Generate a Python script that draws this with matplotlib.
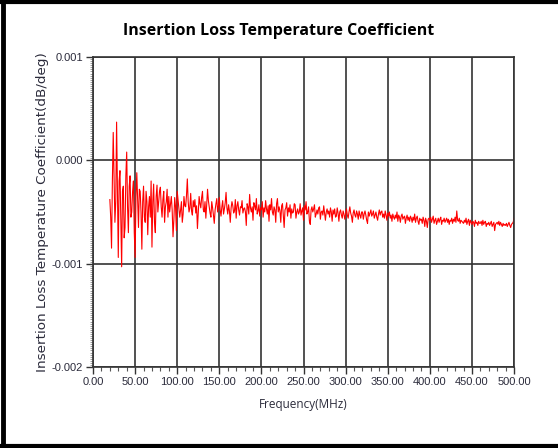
import numpy as np
import matplotlib
matplotlib.use("Agg")
import matplotlib.pyplot as plt
from matplotlib.ticker import MultipleLocator, FormatStrFormatter
from matplotlib.lines import Line2D

# frequency axis (MHz), one sample per MHz
freq_start = 20
freq_stop = 500
freq_step = 1

# coefficient values, in units of 1e-4 dB/deg (10 MHz per row)
coef_e4 = [
    -3.8, -5.5, -8.5, -2.0, 2.7, -1.5, -6.0, -4.0, 3.7, -3.0,
    -9.4, -2.0, -1.0, -5.5, -10.3, -3.0, -2.5, -7.5, -6.5, -1.5,
    0.8, -4.5, -7.0, -2.5, -1.5, -5.5, -5.0, -3.0, -2.0, -7.0,
    -9.4, -3.5, -1.2, -4.0, -6.5, -2.8, -3.0, -5.0, -8.6, -4.0,
    -2.5, -5.5, -6.0, -3.0, -4.0, -7.2, -4.5, -3.5, -5.5, -2.0,
    -8.4, -4.0, -2.3, -6.0, -7.0, -3.5, -2.4, -5.0, -4.0, -3.0,
    -2.6, -4.5, -5.5, -3.8, -3.0, -6.0, -4.5, -4.0, -2.8, -5.5,
    -3.5, -5.0, -4.2, -3.5, -4.8, -7.4, -5.8, -3.6, -4.5, -6.8,
    -3.0, -3.8, -4.5, -5.5, -4.8, -4.0, -6.0, -5.2, -3.5, -4.4,
    -4.5, -3.4, -1.8, -4.0, -5.0, -4.6, -3.2, -4.9, -5.3, -3.9,
    -4.5, -3.8, -5.1, -4.4, -6.6, -5.0, -3.5, -4.2, -4.6, -3.6,
    -3.0, -4.8, -5.0, -4.0, -5.6, -4.3, -2.8, -3.9, -4.5, -5.1,
    -5.5, -4.0, -4.6, -5.3, -6.1, -4.8, -4.2, -3.7, -5.0, -4.4,
    -3.6, -4.8, -5.4, -4.5, -3.9, -5.2, -4.7, -4.1, -3.1, -4.6,
    -5.2, -4.3, -4.9, -6.0, -4.6, -4.0, -4.4, -5.1, -4.9, -3.8,
    -5.6, -4.4, -4.0, -4.8, -5.3, -4.5, -4.6, -3.9, -5.1, -4.7,
    -4.6, -5.0, -6.3, -4.2, -4.5, -5.2, -3.3, -4.6, -5.0, -4.5,
    -5.8, -4.1, -4.4, -4.8, -3.7, -5.2, -4.9, -4.3, -5.4, -4.6,
    -4.8, -4.0, -5.5, -4.6, -5.0, -3.9, -4.7, -5.2, -4.4, -5.9,
    -4.3, -4.8, -3.7, -5.0, -5.3, -4.5, -4.8, -6.0, -4.2, -3.7,
    -5.0, -4.5, -4.9, -6.0, -4.4, -4.2, -5.3, -6.5, -4.8, -4.6,
    -4.1, -5.4, -4.6, -5.0, -4.3, -5.6, -4.7, -5.1, -5.0, -4.2,
    -4.3, -5.6, -5.0, -4.7, -5.2, -5.0, -4.2, -5.3, -4.9, -4.6,
    -5.8, -4.4, -4.8, -4.0, -5.2, -5.0, -4.5, -5.9, -6.2, -4.8,
    -4.5, -5.0, -4.7, -4.3, -5.5, -5.2, -4.8, -5.2, -4.6, -4.5,
    -5.7, -5.0, -4.9, -5.3, -4.4, -5.1, -5.8, -5.0, -4.7, -5.2,
    -4.9, -5.5, -4.6, -5.0, -5.9, -4.8, -5.2, -4.7, -5.5, -5.4,
    -4.6, -5.1, -5.9, -5.0, -4.8, -5.3, -5.6, -4.9, -5.2, -5.7,
    -5.2, -4.7, -5.3, -5.6, -5.0, -4.5, -5.1, -5.4, -6.0, -5.1,
    -4.8, -5.3, -5.5, -4.9, -5.2, -5.7, -4.9, -5.3, -5.6, -5.0,
    -5.0, -5.7, -5.2, -4.9, -5.3, -5.8, -6.1, -5.0, -5.4, -5.1,
    -4.8, -5.4, -5.2, -4.9, -5.6, -5.3, -5.0, -5.5, -5.8, -5.2,
    -4.8, -5.3, -5.0, -4.9, -5.5, -5.2, -5.6, -4.9, -5.3, -5.8,
    -5.1, -5.4, -5.0, -5.6, -5.3, -5.9, -5.2, -5.5, -5.7, -5.3,
    -5.6, -5.0, -5.9, -5.3, -5.5, -6.0, -5.4, -5.2, -5.7, -5.5,
    -5.4, -6.1, -5.6, -5.3, -5.8, -5.5, -5.9, -5.4, -5.6, -6.0,
    -5.5, -5.8, -5.2, -6.0, -5.6, -5.4, -5.9, -6.2, -5.6, -5.8,
    -5.7, -6.1, -5.5, -5.8, -6.4, -5.6, -5.9, -6.5, -5.7, -5.6,
    -5.8, -5.5, -6.0, -5.7, -5.4, -6.1, -5.8, -5.6, -6.2, -5.9,
    -5.6, -6.0, -5.7, -5.5, -6.2, -5.8, -5.9, -5.6, -6.0, -5.8,
    -5.6, -6.0, -5.7, -6.2, -5.8, -5.9, -5.6, -6.1, -5.7, -5.9,
    -5.5, -6.0, -4.9, -5.8, -5.9, -5.6, -6.1, -5.8, -5.9, -6.0,
    -6.1, -5.8, -6.0, -5.6, -6.2, -5.9, -5.7, -6.3, -5.8, -6.0,
    -6.2, -5.9, -6.0, -6.4, -5.8, -6.1, -6.0, -6.3, -5.9, -6.1,
    -6.1, -5.9, -6.3, -5.8, -6.2, -6.0, -5.9, -6.4, -6.1, -6.2,
    -6.0, -6.3, -6.1, -5.9, -6.4, -6.2, -6.0, -6.8, -6.2, -6.1,
    -6.0, -6.2, -5.9, -6.3, -6.0, -6.2, -6.4, -6.1, -6.3, -6.2,
    -6.3, -6.1, -6.4, -6.2, -6.0, -6.3, -6.5, -6.2, -6.1, -6.0,
    -5.6,
]

freq = np.arange(freq_start, freq_stop + freq_step, freq_step)
coef = np.array(coef_e4) * 1e-4

plt.rcParams['axes.unicode_minus'] = False

fig = plt.figure(figsize=(5.58, 4.48), dpi=100)
fig.patch.set_facecolor("white")
ax = fig.add_axes([0.1667, 0.1808, 0.7545, 0.692])

ax.plot(freq, coef, color="red", linewidth=0.8)

ax.set_xlim(0, 500)
ax.set_ylim(-0.002, 0.001)

ax.xaxis.set_major_locator(MultipleLocator(50))
ax.xaxis.set_minor_locator(MultipleLocator(10))
ax.xaxis.set_major_formatter(FormatStrFormatter("%.2f"))
ax.yaxis.set_major_locator(MultipleLocator(0.001))
ax.yaxis.set_minor_locator(MultipleLocator(0.00002))
ax.yaxis.set_major_formatter(FormatStrFormatter("%.3f"))

ax.tick_params(axis="both", which="major", length=5, width=1, color="#333333",
               labelsize=8, labelcolor="#2b2b3b", pad=2)
ax.tick_params(axis="x", which="minor", length=3, width=0.8, color="#555555")
ax.tick_params(axis="y", which="minor", length=2, width=0.5, color="#777777")
for lab in ax.get_xticklabels() + ax.get_yticklabels():
    lab.set_family("Liberation Sans")

ax.grid(which="major", color="#333333", linewidth=1.2)
for s in ax.spines.values():
    s.set_color("#333333")
    s.set_linewidth(1.2)

fig.text(0.5, 0.931, "Insertion Loss Temperature Coefficient", fontsize=11.5,
         fontweight="bold", family="Open Sans", ha="center", va="center")
ax.set_xlabel("Frequency(MHz)", fontsize=8.5, family="Open Sans",
              color="#2b2b3b", labelpad=8)
ax.set_ylabel("Insertion Loss Temperature Coefficient(dB/deg)", fontsize=9.7,
              family="DejaVu Sans", color="#2b2b3b", labelpad=2)

# thick black frame on top, left and bottom of the panel
fig.add_artist(Line2D([0, 1], [0.9955, 0.9955], transform=fig.transFigure,
                      color="black", linewidth=3))
fig.add_artist(Line2D([0.0045, 0.0045], [0, 1], transform=fig.transFigure,
                      color="black", linewidth=3.5))
fig.add_artist(Line2D([0, 1], [0.0045, 0.0045], transform=fig.transFigure,
                      color="black", linewidth=3))

fig.savefig("out.png", dpi=100)
